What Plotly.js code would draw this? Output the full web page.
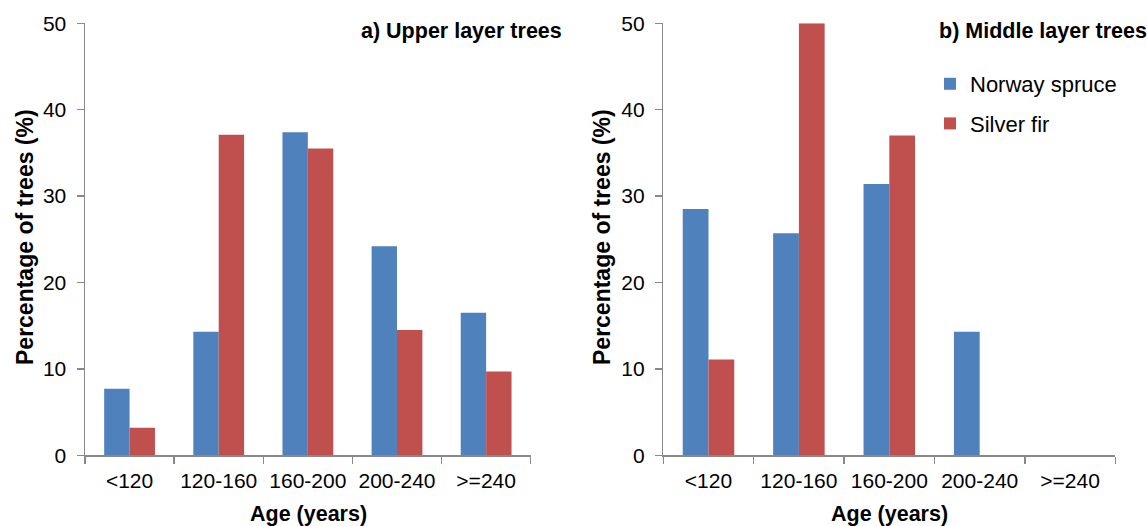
<!DOCTYPE html>
<html>
<head>
<meta charset="utf-8">
<script src="https://cdn.plot.ly/plotly-3.0.1.min.js"></script>
<style>html,body{margin:0;padding:0;background:#fff;}#chart{width:1147px;height:526px;}</style>
</head>
<body>
<div id="chart"></div>
<script>
const categories = ["<120", "120-160", "160-200", "200-240", ">=240"];
const upperSpruce = [7.7, 14.3, 37.4, 24.2, 16.5];
const upperFir = [3.2, 37.1, 35.5, 14.5, 9.7];
const middleSpruce = [28.5, 25.7, 31.4, 14.3, 0];
const middleFir = [11.1, 50, 37.0, 0, 0];
const seriesNames = ["Norway spruce", "Silver fir"];
const panelTitles = ["a) Upper layer trees", "b) Middle layer trees"];
const xTitle = "Age (years)";
const yTitle = "Percentage of trees (%)";

const BLUE = "#4F81BD", RED = "#C0504D";
const FONT = "Liberation Sans, Arial, sans-serif";
const W = 1147, H = 526;
const px = v => v / W, py = v => 1 - v / H;

const traces = [
  {type: "bar", x: categories, y: upperSpruce, name: seriesNames[0], xaxis: "x", yaxis: "y",
   marker: {color: BLUE, line: {width: 0}}, showlegend: false, legendgroup: "a"},
  {type: "bar", x: categories, y: upperFir, name: seriesNames[1], xaxis: "x", yaxis: "y",
   marker: {color: RED, line: {width: 0}}, showlegend: false, legendgroup: "b"},
  {type: "bar", x: categories, y: middleSpruce, name: seriesNames[0], xaxis: "x2", yaxis: "y2",
   marker: {color: BLUE, line: {width: 0}}, legendgroup: "a"},
  {type: "bar", x: categories, y: middleFir, name: seriesNames[1], xaxis: "x2", yaxis: "y2",
   marker: {color: RED, line: {width: 0}}, legendgroup: "b"}
];

const xBase = {
  type: "category", showline: true, linecolor: "#898989", linewidth: 1.5,
  ticks: "outside", tickson: "boundaries", ticklen: 7, tickwidth: 1.5, tickcolor: "#898989",
  showgrid: false, zeroline: false, automargin: false, fixedrange: true,
  tickfont: {family: FONT, size: 21, color: "#000"}, ticklabelstandoff: 6
};
const yBase = {
  range: [0, 50], dtick: 10, showline: true, linecolor: "#898989", linewidth: 1.5,
  ticks: "outside", ticklen: 7, tickwidth: 1.5, tickcolor: "#898989",
  showgrid: false, zeroline: false, automargin: false, fixedrange: true,
  tickfont: {family: FONT, size: 21, color: "#000"}, ticklabelstandoff: 6
};

const yDom = [1 - 455.3 / H, 1 - 23.3 / H];
const bold = {family: FONT, size: 21.5, color: "#000"};
const boldY = {family: FONT, size: 23, color: "#000"};
const layout = {
  width: W, height: H,
  margin: {l: 0, r: 0, t: 0, b: 0},
  paper_bgcolor: "#fff", plot_bgcolor: "#fff",
  barmode: "group", bargap: 0.43, bargroupgap: 0,
  font: {family: FONT, color: "#000"},
  xaxis: Object.assign({}, xBase, {domain: [85 / W, 530.7 / W], anchor: "y"}),
  yaxis: Object.assign({}, yBase, {domain: yDom, anchor: "x"}),
  xaxis2: Object.assign({}, xBase, {domain: [663.3 / W, 1115.3 / W], anchor: "y2"}),
  yaxis2: Object.assign({}, yBase, {domain: yDom, anchor: "x2"}),
  legend: {
    x: px(930), y: py(63), xanchor: "left", yanchor: "top",
    font: {family: FONT, size: 22, color: "#000"},
    bgcolor: "rgba(0,0,0,0)", traceorder: "grouped", tracegroupgap: 8,
    itemclick: false, itemdoubleclick: false
  },
  showlegend: true,
  annotations: [
    {text: "<b>" + panelTitles[0] + "</b>", xref: "paper", yref: "paper", x: px(564), y: py(31),
     xanchor: "right", yanchor: "middle", showarrow: false, font: bold},
    {text: "<b>" + panelTitles[1] + "</b>", xref: "paper", yref: "paper", x: px(937), y: py(31),
     xanchor: "left", yanchor: "middle", showarrow: false, font: bold},
    {text: "<b>" + xTitle + "</b>", xref: "paper", yref: "paper", x: px(308), y: py(514),
     xanchor: "center", yanchor: "middle", showarrow: false, font: bold},
    {text: "<b>" + xTitle + "</b>", xref: "paper", yref: "paper", x: px(889), y: py(514),
     xanchor: "center", yanchor: "middle", showarrow: false, font: bold},
    {text: "<b>" + yTitle + "</b>", xref: "paper", yref: "paper", x: px(25), y: py(237), textangle: -90,
     xanchor: "center", yanchor: "middle", showarrow: false, font: boldY},
    {text: "<b>" + yTitle + "</b>", xref: "paper", yref: "paper", x: px(602), y: py(237), textangle: -90,
     xanchor: "center", yanchor: "middle", showarrow: false, font: boldY}
  ]
};

Plotly.newPlot("chart", traces, layout, {displayModeBar: false, staticPlot: true});
</script>
</body>
</html>
